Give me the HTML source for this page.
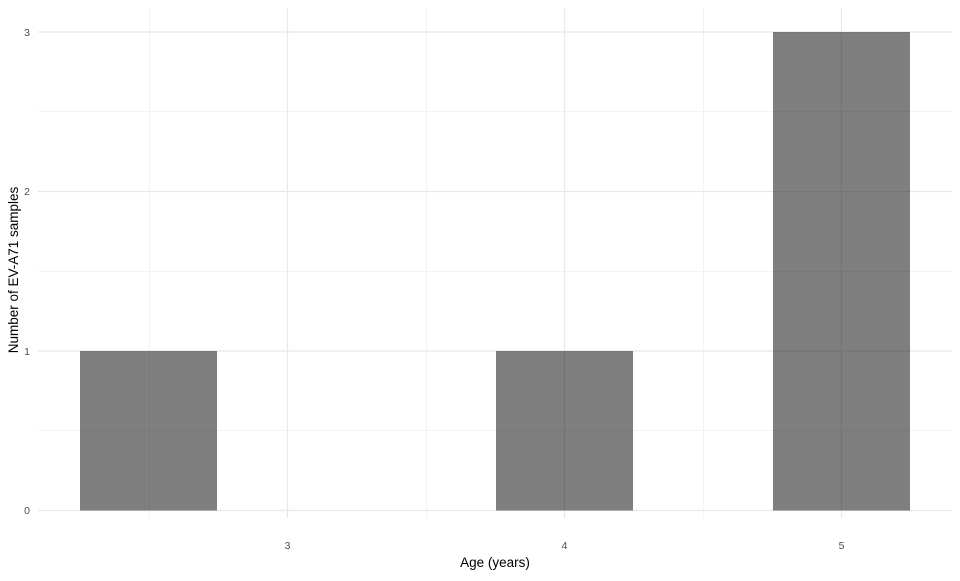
<!DOCTYPE html>
<html><head><meta charset="utf-8"><style>html,body{margin:0;padding:0;background:#fff}</style></head>
<body>
<svg width="960" height="576" xmlns="http://www.w3.org/2000/svg" font-family="Liberation Sans, sans-serif">
<rect width="960" height="576" fill="#fff"/>
<g stroke="#f3f3f3" stroke-width="1">
<line x1="38" x2="952" y1="430.5" y2="430.5"/>
<line x1="38" x2="952" y1="271.5" y2="271.5"/>
<line x1="38" x2="952" y1="111.5" y2="111.5"/>
<line x1="149.5" x2="149.5" y1="8" y2="518"/>
<line x1="426.5" x2="426.5" y1="8" y2="518"/>
<line x1="703.5" x2="703.5" y1="8" y2="518"/>
</g>
<g stroke="#e8e8e8" stroke-width="1.2">
<line x1="38" x2="952" y1="510.5" y2="510.5"/>
<line x1="38" x2="952" y1="351" y2="351"/>
<line x1="38" x2="952" y1="191.5" y2="191.5"/>
<line x1="38" x2="952" y1="32" y2="32"/>
<line x1="287.5" x2="287.5" y1="8" y2="518"/>
<line x1="564.5" x2="564.5" y1="8" y2="518"/>
<line x1="841.5" x2="841.5" y1="8" y2="518"/>
</g>
<g fill="#000" fill-opacity="0.5">
<rect x="80" y="351" width="137" height="159.5"/>
<rect x="496" y="351" width="137" height="159.5"/>
<rect x="773" y="32" width="137" height="478.5"/>
</g>
<g font-size="10.5" fill="#4d4d4d" text-anchor="end">
<text x="30" y="514">0</text>
<text x="30" y="355">1</text>
<text x="30" y="195">2</text>
<text x="30" y="36">3</text>
</g>
<g font-size="10.5" fill="#4d4d4d" text-anchor="middle">
<text x="287.5" y="549">3</text>
<text x="564.5" y="549">4</text>
<text x="841.5" y="549">5</text>
</g>
<text x="495" y="567" font-size="13.5" text-anchor="middle" fill="#000">Age (years)</text>
<text transform="translate(18,270) rotate(-90)" font-size="13.5" text-anchor="middle" fill="#000">Number of EV-A71 samples</text>
</svg>
</body></html>
